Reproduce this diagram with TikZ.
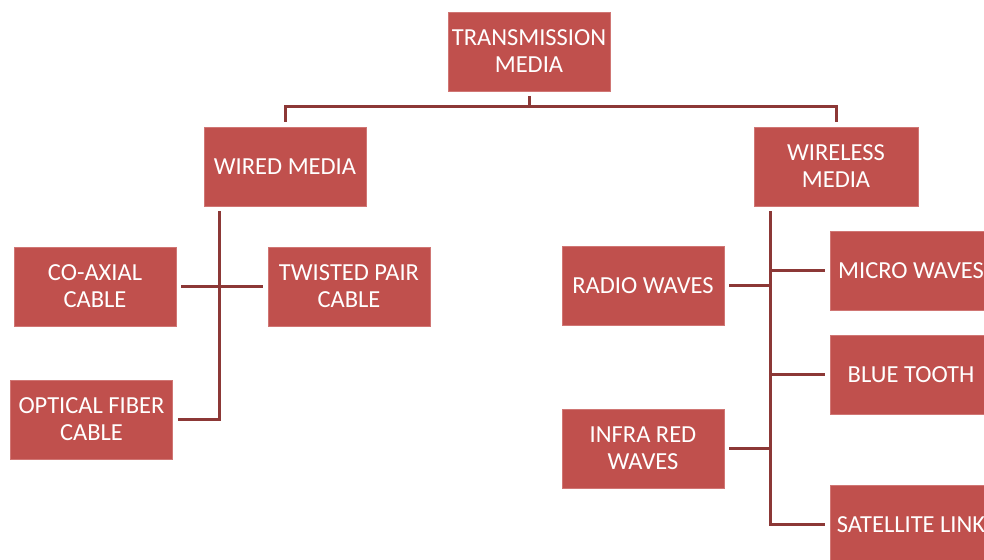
\documentclass[tikz,border=0pt]{standalone}
\usepackage{fontspec}
\setmainfont{Carlito}

\definecolor{boxred}{RGB}{192,80,77}
\definecolor{boxedge}{RGB}{208,118,116}
\definecolor{linkred}{RGB}{140,56,54}

\begin{document}
\begin{tikzpicture}[x=1pt, y=-1pt,
    mediabox/.style={draw=boxedge, line width=0.8pt, fill=boxred, text=white,
        minimum width=162pt, minimum height=79pt, inner sep=0pt, outer sep=5pt,
        align=center, font=\fontsize{24.5}{27}\selectfont},
    link/.style={draw=linkred, line width=3pt}]
    \useasboundingbox (0,0) rectangle (984,559);
    \clip (0,0) rectangle (984,559);

    % top level
    \node[mediabox] (trans) at (529,51.5) {TRANSMISSION\\MEDIA};
    \node[mediabox] (wired) at (285,166.5) {WIRED MEDIA};
    \node[mediabox, minimum width=164pt] (wireless) at (836,166.5) {WIRELESS\\MEDIA};

    % wired side
    \node[mediabox] (coax) at (95,286.5) {CO-AXIAL\\CABLE};
    \node[mediabox] (twisted) at (349,286.5) {TWISTED PAIR\\CABLE};
    \node[mediabox] (optical) at (91.5,419.5) {OPTICAL FIBER\\CABLE};

    % wireless side
    \node[mediabox] (radio) at (643,285.5) {RADIO WAVES};
    \node[mediabox] (infra) at (643,448.5) {INFRA RED\\WAVES};
    \node[mediabox] (micro) at (911,270.5) {MICRO WAVES};
    \node[mediabox] (blue) at (911,374.5) {BLUE TOOTH};
    \node[mediabox] (sat) at (911,524.5) {SATELLITE LINK};

    % connectors
    \coordinate (split) at (529,107);
    \draw[link] (trans) -- (split);
    \draw[link] (split) -| (wired);
    \draw[link] (split) -| (wireless);

    \coordinate (wtrunk) at (219,211);
    \draw[link] (wtrunk) |- (optical);
    \draw[link] (coax) -- (twisted);

    \coordinate (rtrunk) at (770,211);
    \draw[link] (rtrunk) |- (sat);
    \draw[link] (radio) -- (radio -| rtrunk);
    \draw[link] (infra) -- (infra -| rtrunk);
    \draw[link] (rtrunk |- micro) -- (micro);
    \draw[link] (rtrunk |- blue) -- (blue);
\end{tikzpicture}
\end{document}
